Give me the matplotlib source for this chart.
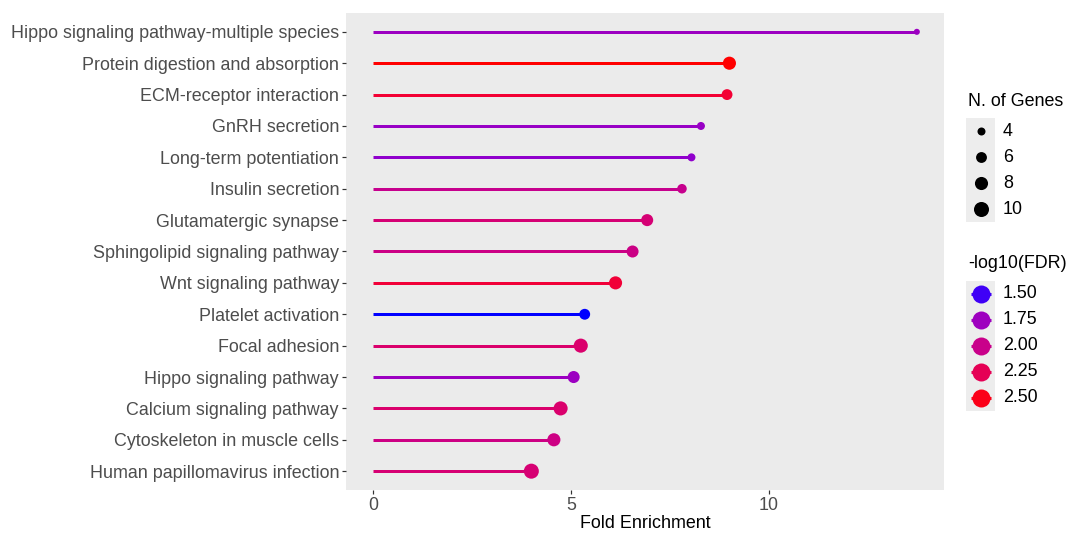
import numpy as np
import matplotlib
matplotlib.use("Agg")
import matplotlib.pyplot as plt
from matplotlib.colors import ListedColormap, Normalize

# ---- data (top row first) ----
pathways = [
    "Hippo signaling pathway-multiple species",
    "Protein digestion and absorption",
    "ECM-receptor interaction",
    "GnRH secretion",
    "Long-term potentiation",
    "Insulin secretion",
    "Glutamatergic synapse",
    "Sphingolipid signaling pathway",
    "Wnt signaling pathway",
    "Platelet activation",
    "Focal adhesion",
    "Hippo signaling pathway",
    "Calcium signaling pathway",
    "Cytoskeleton in muscle cells",
    "Human papillomavirus infection",
]
fold_enrichment = [13.75, 9.01, 8.95, 8.29, 8.05, 7.81, 6.93, 6.56, 6.13,
                   5.35, 5.25, 5.07, 4.74, 4.57, 4.00]
n_genes = [3, 8, 6, 4, 4, 5, 7, 7, 8, 6, 9, 7, 9, 8, 10]
neg_log10_fdr = [1.74, 2.55, 2.40, 1.72, 1.69, 1.98, 2.10, 2.02, 2.38,
                 1.46, 2.14, 1.74, 2.14, 2.03, 2.11]

size_breaks = [4, 6, 8, 10]
fdr_breaks = [1.50, 1.75, 2.00, 2.25, 2.50]
x_ticks = [0, 5, 10]

W, H, DPI = 1068, 533, 100
PX = 72.0 / DPI  # points per pixel


# ---- blue -> red gradient interpolated in CIE Lab ----
def _srgb_to_lab(rgb):
    c = np.asarray(rgb, float)
    lin = np.where(c <= 0.04045, c / 12.92, ((c + 0.055) / 1.055) ** 2.4)
    M = np.array([[0.4124564, 0.3575761, 0.1804375],
                  [0.2126729, 0.7151522, 0.0721750],
                  [0.0193339, 0.1191920, 0.9503041]])
    xyz = M @ lin
    t = xyz / np.array([0.95047, 1.0, 1.08883])
    d = 6 / 29
    f = np.where(t > d ** 3, np.cbrt(t), t / (3 * d * d) + 4 / 29)
    return np.array([116 * f[1] - 16, 500 * (f[0] - f[1]), 200 * (f[1] - f[2])])


def _lab_to_srgb(lab):
    L, a, b = lab
    fy = (L + 16) / 116
    fx = fy + a / 500
    fz = fy - b / 200
    d = 6 / 29
    f = np.array([fx, fy, fz])
    t = np.where(f > d, f ** 3, 3 * d * d * (f - 4 / 29))
    xyz = t * np.array([0.95047, 1.0, 1.08883])
    Minv = np.array([[3.2404542, -1.5371385, -0.4985314],
                     [-0.9692660, 1.8760108, 0.0415560],
                     [0.0556434, -0.2040259, 1.0572252]])
    lin = Minv @ xyz
    lin = np.clip(lin, 0, 1)
    c = np.where(lin <= 0.0031308, 12.92 * lin, 1.055 * lin ** (1 / 2.4) - 0.055)
    return np.clip(c, 0, 1)


lab_lo = _srgb_to_lab([0, 0, 1])
lab_hi = _srgb_to_lab([1, 0, 0])
cmap = ListedColormap([_lab_to_srgb(lab_lo + (lab_hi - lab_lo) * t)
                       for t in np.linspace(0, 1, 256)])
norm = Normalize(vmin=min(neg_log10_fdr), vmax=max(neg_log10_fdr))


def marker_area(n):
    d_px = np.sqrt(64 + 27 * (np.asarray(n, float) - 4))
    return (d_px * PX) ** 2


# ---- figure ----
plt.rcParams['font.family'] = ['Liberation Sans', 'DejaVu Sans']
fig = plt.figure(figsize=(W / DPI, H / DPI), dpi=DPI)
fig.patch.set_facecolor("white")

left, right, top, bottom = 346, 944, 13, 490
ax = fig.add_axes([left / W, 1 - bottom / H, (right - left) / W, (bottom - top) / H])
ax.set_facecolor("#EBEBEB")
for s in ax.spines.values():
    s.set_visible(False)

ypos = np.arange(len(pathways))
colors = cmap(norm(np.array(neg_log10_fdr)))
ax.hlines(ypos, 0, fold_enrichment, colors=colors, linewidth=3 * PX, zorder=2)
ax.scatter(fold_enrichment, ypos, s=marker_area(n_genes), c=colors,
           linewidths=0, zorder=3)

xmax = max(fold_enrichment)
ax.set_xlim(-0.05 * xmax, 1.05 * xmax)
ax.set_ylim(len(pathways) - 0.4, -0.6)
ax.set_yticks(ypos)
ax.set_yticklabels(pathways)
ax.set_xticks(x_ticks)
ax.set_xticklabels([str(v) for v in x_ticks])
ax.tick_params(axis="both", colors="#333333", length=4 * PX, width=1.2 * PX,
               labelsize=12.9, labelcolor="#4D4D4D", pad=3 * PX)
ax.set_xlabel("Fold Enrichment", fontsize=12.9, color="black", labelpad=1)

# ---- legends, placed in pixel coordinates ----
lg = fig.add_axes([0, 0, 1, 1])
lg.set_xlim(0, W)
lg.set_ylim(H, 0)
lg.axis("off")
lg.patch.set_alpha(0)

key_x0, key_x1, key_h = 966, 995, 26
key_cx = (key_x0 + key_x1) / 2
lab_x = 1003

# size legend
lg.text(968, 102, "N. of Genes", fontsize=12.9, va="center", ha="left")
y0 = 118
lg.add_patch(plt.Rectangle((key_x0, y0), key_x1 - key_x0, key_h * len(size_breaks),
                           facecolor="#EDEDED", edgecolor="none"))
for i, b in enumerate(size_breaks):
    cy = y0 + key_h * (i + 0.5)
    lg.scatter([key_cx], [cy], s=marker_area(b), c="black", linewidths=0)
    lg.text(lab_x, cy, str(b), fontsize=12.9, va="center", ha="left")

# colour legend
lg.text(968, 264, "-log10(FDR)", fontsize=12.9, va="center", ha="left")
y0 = 281
lg.add_patch(plt.Rectangle((key_x0, y0), key_x1 - key_x0, key_h * len(fdr_breaks),
                           facecolor="#EDEDED", edgecolor="none"))
for i, b in enumerate(fdr_breaks):
    cy = y0 + key_h * (i + 0.5)
    col = cmap(norm(b))
    lg.plot([key_cx - 10, key_cx + 10], [cy, cy], color=col,
            linewidth=3 * PX, solid_capstyle="butt")
    lg.scatter([key_cx], [cy], s=(18 * PX) ** 2, color=col, linewidths=0)
    lg.text(lab_x, cy, f"{b:.2f}", fontsize=12.9, va="center", ha="left")

fig.savefig("out.png", dpi=DPI)
